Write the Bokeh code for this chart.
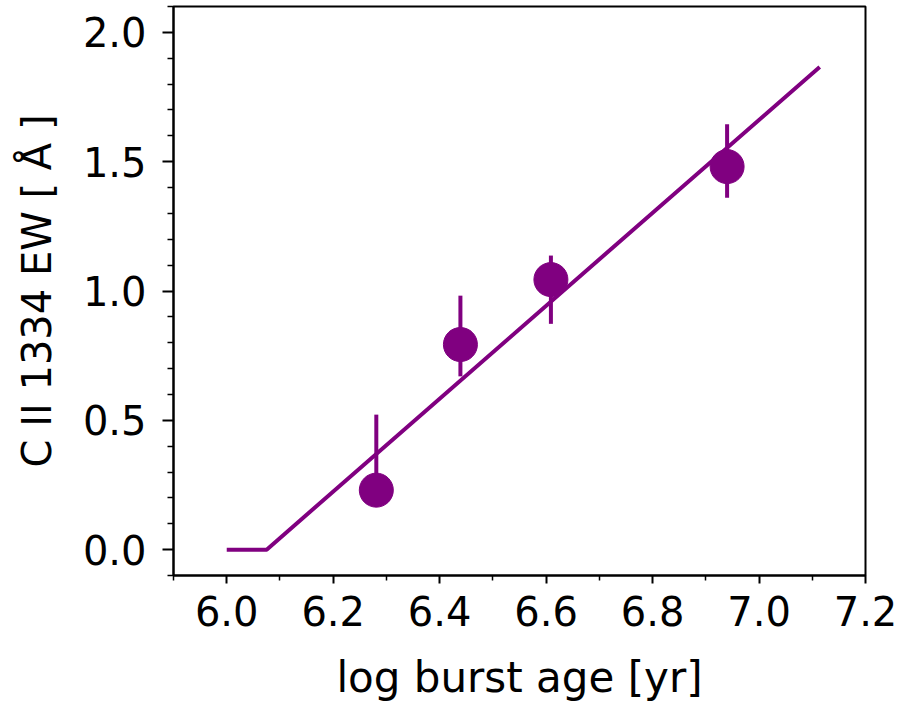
from bokeh.plotting import figure
from bokeh.models import FixedTicker, Range1d, ColumnDataSource
from bokeh.embed import file_html
from bokeh.resources import INLINE

# data
age = [6.281, 6.439, 6.609, 6.940]
ew = [0.230, 0.793, 1.044, 1.481]
ew_lo = [0.200, 0.670, 0.873, 1.361]
ew_hi = [0.522, 0.982, 1.137, 1.645]

model_age = [6.0, 6.075, 7.114]
model_ew = [0.0, 0.0, 1.866]

x_major = [6.0, 6.2, 6.4, 6.6, 6.8, 7.0, 7.2]
x_minor = [5.9, 6.1, 6.3, 6.5, 6.7, 6.9, 7.1]
y_major = [0.0, 0.5, 1.0, 1.5, 2.0]
y_minor = [-0.1, 0.1, 0.2, 0.3, 0.4, 0.6, 0.7, 0.8, 0.9, 1.1, 1.2, 1.3, 1.4,
           1.6, 1.7, 1.8, 1.9, 2.1]

PURPLE = "#800080"
FONT = "DejaVu Sans"

p = figure(width=917, height=704, output_backend="svg", toolbar_location=None,
           x_range=Range1d(5.9, 7.2), y_range=Range1d(-0.1, 2.1),
           min_border_left=173, min_border_right=52, min_border_top=6,
           min_border_bottom=129)
p.grid.visible = False
p.outline_line_color = "black"
p.outline_line_width = 2
p.background_fill_color = "white"
p.border_fill_color = "white"

p.line(model_age, model_ew, line_color=PURPLE, line_width=4)
src = ColumnDataSource(dict(x=age, y=ew, lo=ew_lo, hi=ew_hi))
p.segment(x0="x", y0="lo", x1="x", y1="hi", source=src, line_color=PURPLE, line_width=4)
p.scatter("x", "y", source=src, size=34, fill_color=PURPLE, line_color=PURPLE)

p.xaxis.ticker = FixedTicker(ticks=x_major, minor_ticks=x_minor)
p.yaxis.ticker = FixedTicker(ticks=y_major, minor_ticks=y_minor)
p.xaxis.major_label_overrides = {v: f"{v:.1f}" for v in x_major}
p.yaxis.major_label_overrides = {v: f"{v:.1f}" for v in y_major}

for ax in (p.xaxis[0], p.yaxis[0]):
    ax.axis_line_width = 2
    ax.major_tick_line_width = 2
    ax.minor_tick_line_width = 1.5
    ax.major_tick_in = 0
    ax.minor_tick_in = 0
    ax.major_label_text_font = FONT
    ax.major_label_text_font_size = "40px"
    ax.major_label_text_color = "black"
    ax.axis_label_text_font = FONT
    ax.axis_label_text_font_size = "40px"
    ax.axis_label_text_font_style = "normal"
    ax.axis_label_text_color = "black"

p.xaxis.axis_label_text_font_size = "42px"
p.xaxis.major_tick_out = 8
p.xaxis.minor_tick_out = 5
p.yaxis.major_tick_out = 11
p.yaxis.minor_tick_out = 6

p.xaxis.axis_label = "log burst age [yr]"
p.yaxis.axis_label = "C II 1334 EW [ Å ]"
p.xaxis.major_label_standoff = 12
p.yaxis.major_label_standoff = 16
p.xaxis.axis_label_standoff = 24
p.yaxis.axis_label_standoff = 20

open("out.html", "w").write(file_html(p, INLINE))
